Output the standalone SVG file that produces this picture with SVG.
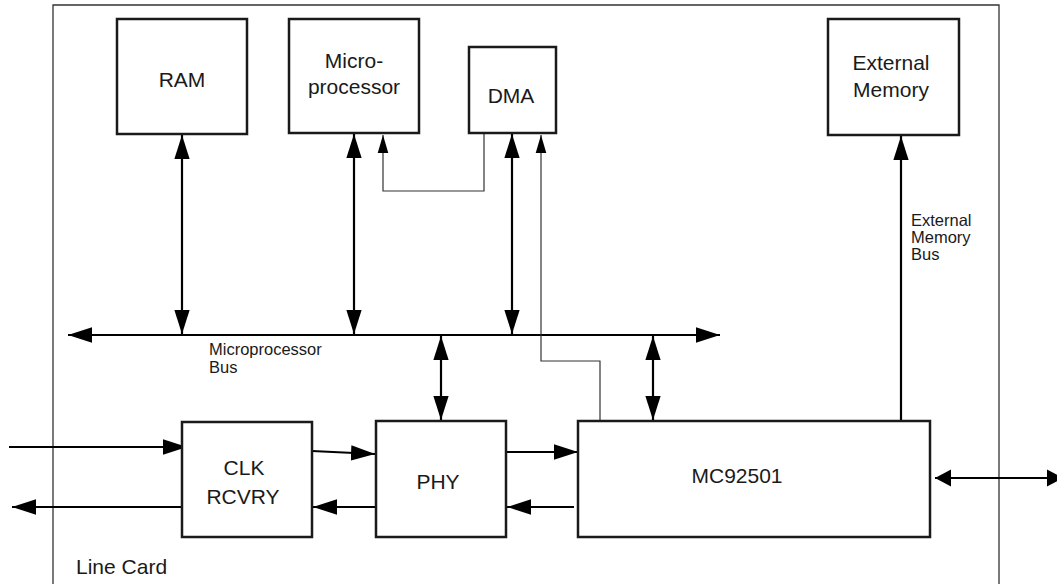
<svg xmlns="http://www.w3.org/2000/svg" width="1057" height="584" viewBox="0 0 1057 584">
<defs>
<style>
.box{fill:#fff;stroke:#1a1a1a;stroke-width:2.5}
.frame{fill:none;stroke:#333;stroke-width:1.3}
.thick{fill:none;stroke:#000;stroke-width:2.2}
.thin{fill:none;stroke:#333;stroke-width:1.2}
.lbl{font-family:"Liberation Sans",Arial,sans-serif;font-size:21px;fill:#1a1a1a;text-anchor:middle}
.small{font-family:"Liberation Sans",Arial,sans-serif;font-size:16.5px;fill:#1a1a1a}
</style>
<marker id="ah" markerUnits="userSpaceOnUse" markerWidth="24" markerHeight="16" viewBox="0 0 22 14" refX="22" refY="7" orient="auto-start-reverse"><path d="M0,0 L22,7 L0,14 Z" fill="#000"/></marker>
<marker id="ahs" markerUnits="userSpaceOnUse" markerWidth="18" markerHeight="12" viewBox="0 0 17 10" refX="17" refY="5" orient="auto-start-reverse"><path d="M0,0 L17,5 L0,10 Z" fill="#000"/></marker>
<marker id="ahw" markerUnits="userSpaceOnUse" markerWidth="16" markerHeight="18" viewBox="0 0 15 16" refX="15" refY="8" orient="auto-start-reverse"><path d="M0,0 L15,8 L0,16 Z" fill="#000"/></marker>
</defs>
<rect width="1057" height="584" fill="#fff"/>
<path class="frame" d="M53,600 V5 H999 V600"/>
<text class="small" x="76" y="574" style="font-size:21px">Line Card</text>

<g id="connectors">
<line class="thick" x1="68" y1="335" x2="720" y2="335" marker-start="url(#ah)" marker-end="url(#ah)"/>
<line class="thick" x1="182" y1="135" x2="182" y2="334" marker-start="url(#ah)" marker-end="url(#ah)"/>
<line class="thick" x1="354" y1="134" x2="354" y2="334" marker-start="url(#ah)" marker-end="url(#ah)"/>
<line class="thick" x1="512" y1="134" x2="512" y2="334" marker-start="url(#ah)" marker-end="url(#ah)"/>
<line class="thick" x1="441" y1="336" x2="441" y2="420" marker-start="url(#ah)" marker-end="url(#ah)"/>
<line class="thick" x1="653" y1="336" x2="653" y2="420" marker-start="url(#ah)" marker-end="url(#ah)"/>
<line class="thick" x1="901" y1="421" x2="901" y2="136" marker-end="url(#ah)"/>
<polyline class="thin" points="484,134 484,191 383,191 383,135" marker-end="url(#ahs)"/>
<polyline class="thin" points="600,421 600,361 541,361 541,135" marker-end="url(#ahs)"/>
<line class="thick" x1="9" y1="447" x2="187" y2="447" marker-end="url(#ah)"/>
<line class="thick" x1="184" y1="507" x2="12" y2="507" marker-end="url(#ah)"/>
<line class="thick" x1="312" y1="451" x2="375" y2="454" marker-end="url(#ah)"/>
<line class="thick" x1="376" y1="507" x2="313" y2="507" marker-end="url(#ah)"/>
<line class="thick" x1="506" y1="452" x2="578" y2="452" marker-end="url(#ah)"/>
<line class="thick" x1="574" y1="507" x2="507" y2="507" marker-end="url(#ah)"/>
<line class="thick" x1="935" y1="478" x2="1063" y2="478" marker-start="url(#ahw)" marker-end="url(#ahw)"/>
</g>

<g id="ram"><rect class="box" x="117" y="19" width="130" height="115"/><text class="lbl" x="182" y="87">RAM</text></g>
<g id="microprocessor"><rect class="box" x="289" y="19" width="130" height="114"/><text class="lbl" x="354" y="68">Micro-</text><text class="lbl" x="354" y="94">processor</text></g>
<g id="dma"><rect class="box" x="469" y="47" width="87" height="86"/><text class="lbl" x="511" y="103">DMA</text></g>
<g id="external-memory"><rect class="box" x="828" y="19" width="131" height="116"/><text class="lbl" x="891" y="70">External</text><text class="lbl" x="891" y="97">Memory</text></g>
<g id="clk-rcvry"><rect class="box" x="182" y="422" width="130" height="115"/><text class="lbl" x="244" y="475">CLK</text><text class="lbl" x="243" y="504">RCVRY</text></g>
<g id="phy"><rect class="box" x="376" y="421" width="130" height="116"/><text class="lbl" x="438" y="489">PHY</text></g>
<g id="mc92501"><rect class="box" x="578" y="421" width="352" height="116"/><text class="lbl" x="737" y="483">MC92501</text></g>

<g id="labels">
<text class="small" x="209" y="355">Microprocessor</text>
<text class="small" x="209" y="373">Bus</text>
<text class="small" x="911" y="226">External</text>
<text class="small" x="911" y="243">Memory</text>
<text class="small" x="911" y="260">Bus</text>
</g>
</svg>
